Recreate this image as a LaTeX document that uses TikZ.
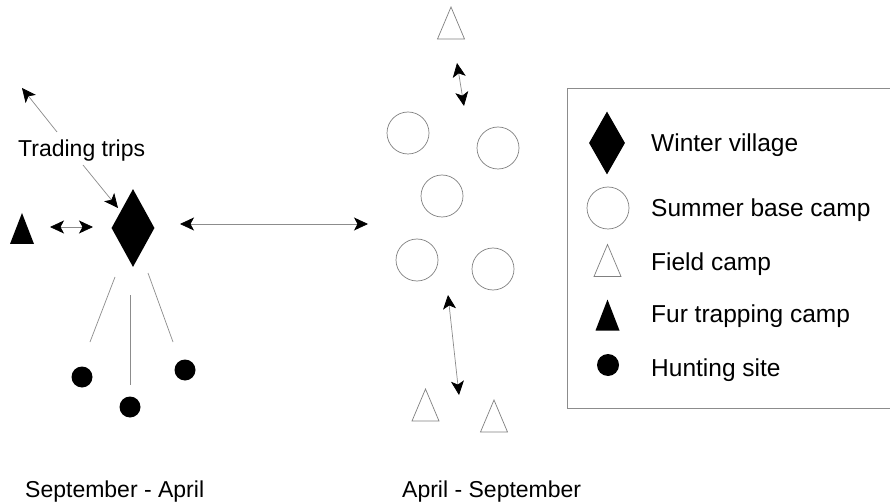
\documentclass[tikz,border=0pt]{standalone}
\usepackage{fontspec}
\setmainfont{Liberation Sans}
\usetikzlibrary{arrows.meta,shapes.geometric}
\tikzset{
  headtip/.tip={Stealth[length=14pt,width=13pt,inset=3.5pt]},
  conn/.style={draw=black!45, line width=0.7pt},
  biarrow/.style={conn, arrows={headtip[black]-headtip[black]}},
  onearrow/.style={conn, arrows={-headtip[black]}},
  outline/.style={draw=black!50, line width=0.7pt, fill=white},
  village/.style={diamond, fill=black, draw=none, inner sep=0pt, minimum width=43pt, minimum height=78pt},
  basecamp/.style={circle, outline, inner sep=0pt, minimum size=42pt},
  huntdot/.style={circle, fill=black, draw=none, inner sep=0pt, minimum size=21pt},
  lbl/.style={font=\fontsize{23}{27}\selectfont, inner sep=0pt, anchor=base west},
  leglbl/.style={font=\fontsize{24.5}{29}\selectfont, inner sep=0pt, anchor=base west},
  fieldtri/.pic={\path[outline] (-13.5,16) -- (0,-16) -- (13.5,16) -- cycle;},
  furtri/.pic={\path[fill=black] (-12,15.5) -- (0,-15.5) -- (12,15.5) -- cycle;},
}
\begin{document}
\begin{tikzpicture}[x=1pt,y=-1pt]
\clip (0,0) rectangle (890,502);
\fill[white] (0,0) rectangle (890,502);

% ---- winter (left) group ----
\node[village] (wv) at (133,228) {};
\pic (fur) at (22,228.5) {furtri};
\node[huntdot] (h1) at (82,377) {};
\node[huntdot] (h2) at (130,407) {};
\node[huntdot] (h3) at (185,370) {};
\node[lbl] (trade) at (18,157) {Trading trips};

\coordinate (tu1) at (57,132);
\coordinate (tu2) at (22,88);
\coordinate (td1) at (83,165);
\coordinate (td2) at (118,208);
\draw[onearrow] (tu1) -- (tu2);
\draw[onearrow] (td1) -- (td2);

\coordinate (fa1) at (50,227);
\coordinate (fa2) at (93,227);
\draw[biarrow] (fa1) -- (fa2);

\coordinate (l1a) at (115,277); \coordinate (l1b) at (90,342);
\coordinate (l2a) at (130,295); \coordinate (l2b) at (130,385);
\coordinate (l3a) at (148,273); \coordinate (l3b) at (173,342);
\draw[conn] (l1a) -- (l1b);
\draw[conn] (l2a) -- (l2b);
\draw[conn] (l3a) -- (l3b);

% ---- seasonal link ----
\coordinate (ba1) at (180,224);
\coordinate (ba2) at (368,224);
\draw[biarrow] (ba1) -- (ba2);

% ---- summer (right) group ----
\pic (fct) at (451,23) {fieldtri};
\node[basecamp] (c1) at (408,133) {};
\node[basecamp] (c2) at (498,148) {};
\node[basecamp] (c3) at (442,196) {};
\node[basecamp] (c4) at (417,260) {};
\node[basecamp] (c5) at (493,269) {};
\pic (fcb1) at (425.5,405) {fieldtri};
\pic (fcb2) at (494,416) {fieldtri};

\coordinate (ta1) at (457,63);
\coordinate (ta2) at (464,106);
\draw[biarrow] (ta1) -- (ta2);
\coordinate (bb1) at (448,295);
\coordinate (bb2) at (459,395);
\draw[biarrow] (bb1) -- (bb2);

% ---- season labels ----
\node[lbl] (sa) at (25,497) {September - April};
\node[lbl] (as) at (402,497) {April - September};

% ---- legend ----
\draw[draw=black!45, line width=0.7pt] (900,88) -- (567,88) -- (567,408) -- (900,408);
\node[village, minimum width=36pt, minimum height=63pt] (lg1) at (607,143) {};
\node[basecamp] (lg2) at (608,208) {};
\pic (lg3) at (607.5,260.5) {fieldtri};
\pic (lg4) at (607.5,315) {furtri};
\node[huntdot, minimum size=22pt] (lg5) at (608,365) {};
\node[leglbl] (t1) at (651,151.5) {Winter village};
\node[leglbl] (t2) at (651,216.5) {Summer base camp};
\node[leglbl] (t3) at (651,270.5) {Field camp};
\node[leglbl] (t4) at (651,322.5) {Fur trapping camp};
\node[leglbl] (t5) at (651,376.5) {Hunting site};
\end{tikzpicture}
\end{document}
